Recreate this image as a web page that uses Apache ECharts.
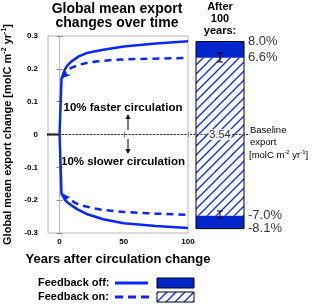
<!DOCTYPE html>
<html><head><meta charset="utf-8">
<script src="https://cdn.jsdelivr.net/npm/echarts@6/dist/echarts.min.js"></script>
<style>html,body{margin:0;padding:0;background:#fff}#c{width:320px;height:307px}</style>
</head><body><div id="c"></div>
<script>
// ---- data ----
const preYears = [-10, 0];
const preValues = [0, 0];
const solidUpYears = [0, 1.5, 4, 6, 9, 15, 21, 34, 50, 75, 100];
const solidUp = [0, 0.17, 0.197, 0.21, 0.222, 0.238, 0.248, 0.258, 0.268, 0.277, 0.284];
const dashUpYears = [2, 5, 9, 15, 21, 30, 41, 60, 100];
const dashUp = [0.172, 0.19, 0.203, 0.212, 0.218, 0.223, 0.227, 0.23, 0.233];
const solidDownYears = [0, 1.5, 4, 6, 9, 14, 21, 34, 50, 75, 100];
const solidDown = [0, -0.18, -0.197, -0.206, -0.215, -0.228, -0.242, -0.258, -0.27, -0.279, -0.285];
const dashDownYears = [2, 5, 8, 13, 19, 27, 34, 50, 75, 100];
const dashDown = [-0.182, -0.19, -0.198, -0.21, -0.218, -0.225, -0.23, -0.236, -0.241, -0.245];
const baseline = 3.54;
const pctOff = [8.0, -8.1];   // feedback off, % change after 100 years
const pctOn = [6.6, -7.0];    // feedback on
const errLow = [0.221, -0.255];
const errHigh = [0.248, -0.233];
const xTickValues = [0, 50, 100];
const barCategory = ['After 100 years'];

// ---- styles ----
const BLUE = '#0a28f5';
const FILL = '#0026cc';
const FONT = '"Liberation Sans", Arial, Helvetica, sans-serif';
const FRAME = '#b8b8b8';

function hatchCanvas() {
  const c = document.createElement('canvas');
  const s = 9;
  c.width = s; c.height = s;
  const g = c.getContext('2d');
  g.fillStyle = '#fff'; g.fillRect(0, 0, s, s);
  g.strokeStyle = BLUE; g.lineWidth = 1.3;
  g.beginPath();
  g.moveTo(0, s); g.lineTo(s, 0);
  g.moveTo(-2, 2); g.lineTo(2, -2);
  g.moveTo(s - 2, s + 2); g.lineTo(s + 2, s - 2);
  g.stroke();
  return c;
}
const HATCH = { image: hatchCanvas(), repeat: 'repeat' };

const zip = (xs, ys) => xs.map((x, i) => [x, ys[i]]);
function arrowStart(pts, rot) {
  return pts.map((p, i) => i === 0 ? { value: p, symbol: 'arrow', symbolSize: [6, 8], symbolRotate: rot } : p);
}

const toVal = p => p / 100 * baseline;

const chart = echarts.init(document.getElementById('c'), null, { renderer: 'canvas' });

const axisNameSup = { fontSize: 7, fontWeight: 'bold', fontFamily: FONT, verticalAlign: 'top', lineHeight: 8, color: '#000' };

const option = {
  animation: false,
  backgroundColor: '#fff',
  grid: [
    { left: 43, top: 36, width: 145, height: 197, show: true, borderColor: FRAME, borderWidth: 1 },
    { left: 190, top: 36, width: 60, height: 197, show: false }
  ],
  xAxis: [
    { type: 'value', gridIndex: 0, min: -9, max: 100,
      name: 'Years after circulation change', nameLocation: 'middle', nameGap: 20,
      nameTextStyle: { fontFamily: FONT, fontWeight: 'bold', fontSize: 13, color: '#000' },
      axisLine: { lineStyle: { color: FRAME } }, splitLine: { show: false },
      axisTick: { inside: true, length: 3, lineStyle: { color: '#888' }, customValues: xTickValues },
      axisLabel: { fontFamily: FONT, fontWeight: 'bold', fontSize: 8, color: '#000', margin: 5, customValues: xTickValues } },
    { type: 'value', gridIndex: 0, min: -9, max: 100, position: 'top',
      axisLine: { lineStyle: { color: FRAME } }, splitLine: { show: false },
      axisTick: { inside: true, length: 3, lineStyle: { color: '#888' }, customValues: xTickValues },
      axisLabel: { show: false } },
    { type: 'category', gridIndex: 1, data: barCategory, show: false }
  ],
  yAxis: [
    { type: 'value', gridIndex: 0, min: -0.3, max: 0.3, interval: 0.1,
      name: '{n|Global mean export change [molC m}{s|-2}{n| yr}{s|-1}{n|]}',
      nameLocation: 'middle', nameGap: 34, nameRotate: 90,
      nameTextStyle: { rich: { n: { fontSize: 11, fontWeight: 'bold', fontFamily: FONT, color: '#000', lineHeight: 13 }, s: axisNameSup } },
      axisLine: { show: true, lineStyle: { color: FRAME } }, splitLine: { show: false },
      axisTick: { show: true, inside: true, length: 3, lineStyle: { color: '#888' } },
      axisLabel: { fontFamily: FONT, fontWeight: 'bold', fontSize: 8, color: '#000', margin: 10 } },
    { type: 'value', gridIndex: 0, min: -0.3, max: 0.3, interval: 0.1, position: 'right',
      axisLine: { show: true, lineStyle: { color: FRAME } }, splitLine: { show: false },
      axisTick: { show: true, inside: true, length: 3, lineStyle: { color: '#888' } },
      axisLabel: { show: false } },
    { type: 'value', gridIndex: 1, min: -0.3, max: 0.3, show: false }
  ],
  series: [
    { type: 'line', xAxisIndex: 0, yAxisIndex: 0, data: zip(preYears, preValues), symbol: 'none',
      lineStyle: { color: '#000', width: 2 }, z: 3,
      markLine: { silent: true, symbol: 'none', label: { show: false },
        lineStyle: { color: '#333', type: [2, 1.5], width: 1 }, data: [{ yAxis: 0 }] } },
    { type: 'line', xAxisIndex: 0, yAxisIndex: 0, data: zip(solidUpYears, solidUp), symbol: 'none', smooth: false,
      lineStyle: { color: BLUE, width: 2.5 }, z: 4 },
    { type: 'line', xAxisIndex: 0, yAxisIndex: 0, data: zip(solidDownYears, solidDown), symbol: 'none',
      lineStyle: { color: BLUE, width: 2.5 }, z: 4 },
    { type: 'line', xAxisIndex: 0, yAxisIndex: 0, data: arrowStart(zip(dashUpYears, dashUp), 135), symbol: 'none',
      itemStyle: { color: BLUE }, lineStyle: { color: BLUE, width: 2.5, type: [7, 5] }, z: 4 },
    { type: 'line', xAxisIndex: 0, yAxisIndex: 0, data: arrowStart(zip(dashDownYears, dashDown), 45), symbol: 'none',
      itemStyle: { color: BLUE }, lineStyle: { color: BLUE, width: 2.5, type: [7, 5] }, z: 4 },
    // after-100-years bar panel
    { type: 'custom', xAxisIndex: 2, yAxisIndex: 2, z: 2,
      data: [[0, toVal(pctOff[1]), toVal(pctOn[1]), toVal(pctOn[0]), toVal(pctOff[0])]],
      renderItem: function (params, api) {
        const bw = api.size([1, 0])[0] * 0.8;
        const cx = api.coord([api.value(0), 0])[0];
        const x0 = cx - bw / 2;
        const y = v => api.coord([api.value(0), v])[1];
        const offNeg = y(api.value(1)), onNeg = y(api.value(2)), onPos = y(api.value(3)), offPos = y(api.value(4));
        return { type: 'group', children: [
          { type: 'rect', shape: { x: x0, y: onPos, width: bw, height: onNeg - onPos }, style: { fill: HATCH } },
          { type: 'rect', shape: { x: x0, y: offPos, width: bw, height: onPos - offPos }, style: { fill: FILL } },
          { type: 'rect', shape: { x: x0, y: onNeg, width: bw, height: offNeg - onNeg }, style: { fill: FILL } },
          { type: 'rect', shape: { x: x0, y: offPos, width: bw, height: offNeg - offPos }, style: { fill: null, stroke: '#000', lineWidth: 1 } }
        ] };
      } },
    // error bars
    { type: 'custom', xAxisIndex: 2, yAxisIndex: 2, z: 6,
      data: errLow.map((lo, i) => [0, lo, errHigh[i]]),
      renderItem: function (params, api) {
        const p1 = api.coord([api.value(0), api.value(1)]);
        const p2 = api.coord([api.value(0), api.value(2)]);
        const st = { stroke: '#000', lineWidth: 1 };
        return { type: 'group', children: [
          { type: 'line', shape: { x1: p1[0], y1: p1[1], x2: p2[0], y2: p2[1] }, style: st },
          { type: 'line', shape: { x1: p1[0] - 3, y1: p1[1], x2: p1[0] + 3, y2: p1[1] }, style: st },
          { type: 'line', shape: { x1: p2[0] - 3, y1: p2[1], x2: p2[0] + 3, y2: p2[1] }, style: st }
        ] };
      } },
    // baseline dotted line across bar panel
    { type: 'scatter', xAxisIndex: 2, yAxisIndex: 2, z: 7, symbolSize: 0, data: [],
      markLine: { silent: true, symbol: 'none', label: { show: false },
        lineStyle: { color: '#333', type: [2, 1.5], width: 1 }, data: [{ yAxis: 0 }] } },
    // percent labels
    { type: 'scatter', xAxisIndex: 2, yAxisIndex: 2, z: 8, symbolSize: 0,
      data: [pctOff[0], pctOn[0], pctOn[1], pctOff[1]].map(p => ({ value: [0, toVal(p)], pct: p })),
      label: { show: true, position: 'right', distance: 28, fontFamily: FONT, fontSize: 13, color: '#000',
        formatter: p => p.data.pct.toFixed(1) + '%' } },
    // baseline value label
    { type: 'scatter', xAxisIndex: 2, yAxisIndex: 2, z: 9, symbolSize: 0,
      data: [[0, 0]],
      label: { show: true, position: 'inside', fontFamily: FONT, fontSize: 11, color: '#000',
        backgroundColor: '#fff', padding: [0, 1], formatter: () => baseline.toFixed(2) } }
  ],
  graphic: [
    { type: 'text', x: 117, y: 9, style: { text: 'Global mean export', font: 'bold 14px ' + FONT, fill: '#000', textAlign: 'center', textVerticalAlign: 'middle' } },
    { type: 'text', x: 117, y: 23, style: { text: 'changes over time', font: 'bold 14px ' + FONT, fill: '#000', textAlign: 'center', textVerticalAlign: 'middle' } },
    { type: 'text', x: 220, y: 7, style: { text: 'After', font: 'bold 11px ' + FONT, fill: '#000', textAlign: 'center', textVerticalAlign: 'middle' } },
    { type: 'text', x: 220, y: 19, style: { text: '100', font: 'bold 11px ' + FONT, fill: '#000', textAlign: 'center', textVerticalAlign: 'middle' } },
    { type: 'text', x: 220, y: 31, style: { text: 'years:', font: 'bold 11px ' + FONT, fill: '#000', textAlign: 'center', textVerticalAlign: 'middle' } },
    { type: 'text', x: 250, y: 130, style: { text: 'Baseline', font: '9.5px ' + FONT, fill: '#000', textVerticalAlign: 'middle' } },
    { type: 'text', x: 250, y: 142.5, style: { text: 'export', font: '9.5px ' + FONT, fill: '#000', textVerticalAlign: 'middle' } },
    { type: 'text', x: 249, y: 155, style: { text: '{n|[molC m}{s|-2}{n| yr}{s|-1}{n|]}', textVerticalAlign: 'middle',
      rich: { n: { fontSize: 9.5, fontFamily: FONT, fill: '#000', lineHeight: 11 }, s: { fontSize: 6, fontFamily: FONT, fill: '#000', verticalAlign: 'top', lineHeight: 7 } } } },
    { type: 'text', x: 123, y: 108, style: { text: '10% faster circulation', font: 'bold 11.5px ' + FONT, fill: '#000', textAlign: 'center', textVerticalAlign: 'middle' } },
    { type: 'text', x: 123, y: 162, style: { text: '10% slower circulation', font: 'bold 11.5px ' + FONT, fill: '#000', textAlign: 'center', textVerticalAlign: 'middle' } },
    { type: 'line', shape: { x1: 128, y1: 130, x2: 128, y2: 118 }, style: { stroke: '#000', lineWidth: 1 } },
    { type: 'polygon', shape: { points: [[125.5, 119], [130.5, 119], [128, 114]] }, style: { fill: '#000' } },
    { type: 'line', shape: { x1: 128, y1: 139, x2: 128, y2: 150 }, style: { stroke: '#000', lineWidth: 1 } },
    { type: 'polygon', shape: { points: [[125.5, 149], [130.5, 149], [128, 154]] }, style: { fill: '#000' } },
    // legend
    { type: 'text', x: 38, y: 283, style: { text: 'Feedback off:', font: 'bold 11px ' + FONT, fill: '#000', textVerticalAlign: 'middle' } },
    { type: 'text', x: 38, y: 297, style: { text: 'Feedback on:', font: 'bold 11px ' + FONT, fill: '#000', textVerticalAlign: 'middle' } },
    { type: 'line', shape: { x1: 115, y1: 283, x2: 148, y2: 283 }, style: { stroke: BLUE, lineWidth: 3 } },
    { type: 'line', shape: { x1: 115, y1: 297, x2: 149, y2: 297 }, style: { stroke: BLUE, lineWidth: 3, lineDash: [8, 5] } },
    { type: 'rect', shape: { x: 157, y: 278, width: 37, height: 10 }, style: { fill: FILL, stroke: '#000', lineWidth: 1 } },
    { type: 'rect', shape: { x: 157, y: 292, width: 37, height: 10 }, style: { fill: HATCH, stroke: '#000', lineWidth: 1 } }
  ]
};
chart.setOption(option);
</script>
</body></html>
